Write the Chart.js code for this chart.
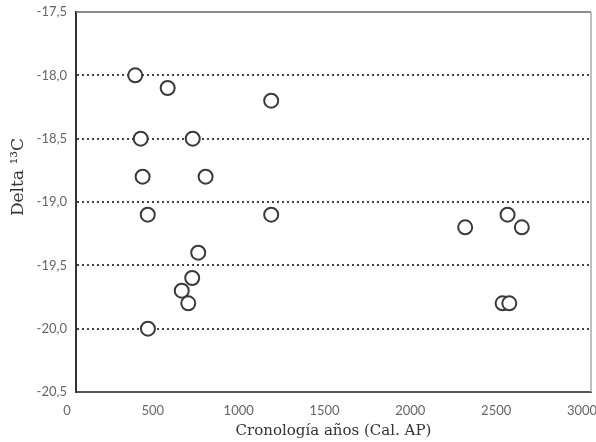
<!DOCTYPE html>
<html>
<head>
<meta charset="utf-8">
<script src="https://cdn.jsdelivr.net/npm/chart.js@4"></script>
<style>
  html, body { margin: 0; padding: 0; background: #fff; }
  #wrap { width: 596px; height: 442px; }
</style>
</head>
<body>
<div id="wrap"><canvas id="deltaChart" width="596" height="442"></canvas></div>
<script>
// cronología (años Cal. AP) y delta 13C de cada muestra
const years = [345, 534, 1137, 377, 680, 388, 755, 418, 1137, 712, 677, 616, 654, 419, 2267, 2514, 2597, 2485, 2524];
const delta13C = [-18.0, -18.1, -18.2, -18.5, -18.5, -18.8, -18.8, -19.1, -19.1, -19.4, -19.6, -19.7, -19.8, -20.0, -19.2, -19.1, -19.2, -19.8, -19.8];

const xTickValues = [0, 500, 1000, 1500, 2000, 2500, 3000];
const yTickValues = [-20.5, -20.0, -19.5, -19.0, -18.5, -18.0, -17.5];

const xTitle = 'Cronología años (Cal. AP)';
const yTitle = 'Delta ¹³C';

const points = years.map((x, i) => ({x, y: delta13C[i]}));

// marco superior / derecho y título del eje Y (desplazado hacia arriba como en el original)
const framePlugin = {
    id: 'frame',
    afterDraw(chart) {
        const {ctx, chartArea: a} = chart;
        ctx.save();
        ctx.lineWidth = 1.5;
        ctx.strokeStyle = '#666';
        ctx.beginPath();
        ctx.moveTo(a.left, a.top);
        ctx.lineTo(a.right, a.top);
        ctx.stroke();
        ctx.strokeStyle = '#aaa';
        ctx.beginPath();
        ctx.moveTo(a.right, a.top);
        ctx.lineTo(a.right, a.bottom);
        ctx.stroke();

        ctx.translate(19, 177);
        ctx.rotate(-Math.PI / 2);
        ctx.fillStyle = '#333';
        ctx.font = '17px "DejaVu Serif"';
        ctx.textAlign = 'center';
        ctx.textBaseline = 'middle';
        ctx.fillText(yTitle, 0, 0);
        ctx.restore();
    }
};

const tickFont = {family: 'Lato', size: 13};
const fmt = v => v.toFixed(1).replace('.', ',');

new Chart(document.getElementById('deltaChart').getContext('2d'), {
    type: 'scatter',
    data: {
        datasets: [{
            data: points,
            pointRadius: 7,
            pointHoverRadius: 7,
            pointBorderWidth: 2,
            pointBorderColor: '#3a3a3a',
            pointBackgroundColor: '#fff'
        }]
    },
    options: {
        responsive: false,
        animation: false,
        layout: {
            autoPadding: false,
            padding: {left: 0, top: 12, right: 5, bottom: 0}
        },
        plugins: {
            legend: {display: false},
            tooltip: {enabled: false}
        },
        scales: {
            x: {
                type: 'linear',
                min: 0,
                max: 3000,
                afterBuildTicks: scale => { scale.ticks = xTickValues.map(value => ({value})); },
                afterFit: scale => {
                    scale.height = 50;
                    scale.paddingLeft = 0;
                    scale.paddingRight = 0;
                },
                grid: {display: false, drawTicks: false},
                border: {color: '#555', width: 2},
                ticks: {
                    color: '#666',
                    font: tickFont,
                    padding: 11,
                    labelOffset: -9,
                    maxRotation: 0,
                    callback: v => String(v)
                },
                title: {
                    display: true,
                    text: xTitle,
                    color: '#333',
                    font: {family: 'DejaVu Serif', size: 15},
                    padding: {top: 0, bottom: 2}
                }
            },
            y: {
                type: 'linear',
                min: -20.5,
                max: -17.5,
                afterBuildTicks: scale => { scale.ticks = yTickValues.map(value => ({value})); },
                afterFit: scale => {
                    scale.width = 76;
                    scale.paddingTop = 0;
                    scale.paddingBottom = 0;
                },
                grid: {
                    drawTicks: false,
                    lineWidth: 2,
                    color: c => (c.tick && (c.tick.value === -17.5 || c.tick.value === -20.5)) ? 'rgba(0,0,0,0)' : '#444'
                },
                border: {color: '#333', width: 2, dash: [2, 3]},
                ticks: {
                    color: '#666',
                    font: tickFont,
                    padding: 9,
                    callback: v => fmt(v)
                }
            }
        }
    },
    plugins: [framePlugin]
});
</script>
</body>
</html>
